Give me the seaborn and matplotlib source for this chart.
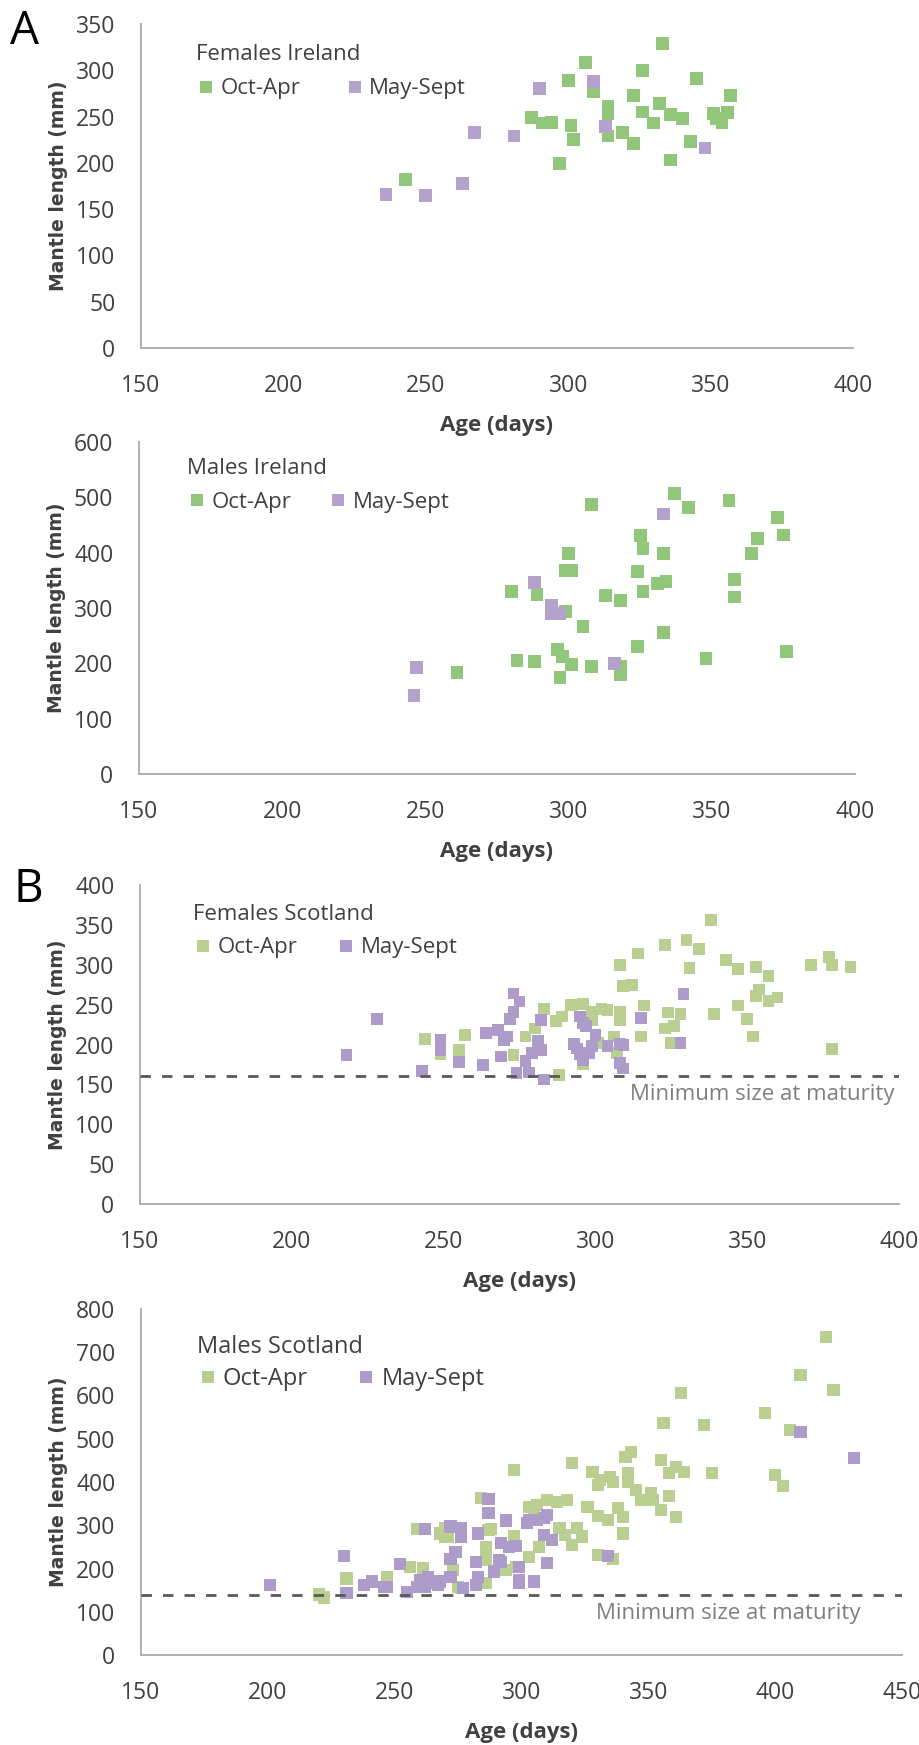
import matplotlib
matplotlib.use("Agg")
import matplotlib.pyplot as plt
import seaborn as sns
import pandas as pd
from matplotlib.lines import Line2D

SEASONS = ["Oct-Apr", "May-Sept"]

# ---------------- Females Ireland ----------------
fi_oct_age = [243, 287, 291, 294, 297, 300, 301, 302, 306, 309, 314, 314, 314, 319, 323, 323,
              326, 326, 330, 332, 333, 336, 336, 340, 343, 345, 351, 352, 354, 356, 357]
fi_oct_len = [182, 249, 243, 244, 199, 289, 240, 225, 308, 277, 261, 253, 229, 233, 273, 221,
              300, 255, 243, 264, 329, 203, 252, 248, 223, 291, 253, 248, 243, 254, 273]
fi_may_age = [236, 250, 263, 267, 281, 290, 309, 313, 348]
fi_may_len = [166, 165, 178, 233, 229, 280, 288, 239, 216]

# ---------------- Males Ireland ----------------
mi_oct_age = [261, 280, 282, 288, 289, 296, 297, 298, 299, 299, 301, 300, 301, 305, 308, 308,
              313, 318, 318, 318, 324, 324, 325, 326, 326, 331, 333, 333, 334, 337, 342, 348,
              356, 358, 358, 364, 366, 373, 375, 376]
mi_oct_len = [184, 330, 205, 203, 325, 225, 174, 213, 294, 368, 368, 398, 198, 266, 195, 487,
              322, 313, 195, 180, 231, 366, 431, 407, 330, 344, 398, 255, 348, 507, 481, 209,
              495, 352, 320, 399, 425, 463, 432, 222]
mi_may_age = [246, 247, 288, 294, 294, 295, 297, 316, 333]
mi_may_len = [142, 192, 346, 305, 290, 290, 290, 199, 470]

# ---------------- Females Scotland ----------------
fs_oct_age = [244, 249, 255, 257, 273, 277, 280, 283, 287, 289, 288, 292, 296, 296, 299, 299,
              301, 302, 304, 306, 307, 308, 308, 308, 309, 312, 314, 315, 316, 323, 323, 324,
              325, 326, 328, 330, 331, 334, 338, 339, 343, 347, 347, 350, 352, 353, 353, 354,
              357, 357, 360, 371, 377, 378, 378, 384]
fs_oct_len = [207, 188, 193, 212, 187, 210, 220, 245, 229, 235, 162, 250, 251, 176, 231, 241,
              202, 245, 243, 210, 189, 300, 241, 231, 273, 275, 314, 210, 249, 325, 220, 240,
              202, 223, 238, 331, 296, 320, 356, 238, 306, 295, 249, 232, 210, 297, 261, 269,
              286, 255, 259, 300, 310, 300, 194, 297]
fs_may_age = [218, 228, 243, 249, 249, 255, 263, 264, 268, 269, 270, 271, 272, 273, 273, 275,
              274, 278, 277, 279, 281, 282, 282, 283, 293, 294, 295, 296, 295, 296, 297, 298,
              299, 300, 304, 308, 308, 309, 309, 315, 328, 329]
fs_may_len = [187, 232, 167, 206, 193, 178, 174, 214, 218, 185, 206, 210, 232, 241, 264, 254,
              164, 165, 179, 189, 204, 193, 231, 156, 201, 195, 188, 180, 235, 227, 223, 189,
              198, 212, 198, 201, 177, 199, 170, 233, 202, 263]

# ---------------- Males Scotland ----------------
ms_oct_age = [220, 222, 231, 247, 256, 259, 261, 268, 270, 270, 271, 273, 275, 276, 284, 286,
              286, 286, 286, 287, 288, 292, 294, 297, 297, 297, 298, 303, 303, 305, 306, 307,
              310, 314, 315, 317, 318, 320, 320, 322, 324, 326, 328, 330, 330, 330, 331, 334,
              335, 336, 336, 338, 340, 340, 341, 342, 342, 343, 345, 347, 351, 352, 355, 355,
              358, 358, 361, 361, 364, 363, 356, 372, 375, 396, 400, 403, 406, 410, 420, 423]
ms_oct_len = [140, 133, 177, 181, 203, 291, 200, 281, 293, 274, 274, 197, 158, 154, 362, 243,
              220, 250, 166, 289, 291, 197, 197, 270, 274, 428, 204, 343, 227, 335, 347, 250,
              358, 354, 293, 277, 358, 254, 443, 293, 274, 343, 424, 393, 321, 231, 405, 312,
              412, 401, 221, 339, 320, 281, 458, 420, 401, 470, 381, 358, 374, 358, 451, 335,
              421, 368, 435, 320, 424, 605, 536, 532, 421, 560, 416, 391, 520, 647, 736, 613]
ms_may_age = [201, 230, 231, 238, 241, 246, 247, 252, 255, 259, 260, 262, 263, 262, 265, 267,
              268, 272, 272, 272, 274, 276, 276, 277, 282, 283, 283, 282, 287, 287, 289, 291,
              292, 292, 294, 295, 298, 299, 299, 299, 302, 303, 305, 306, 309, 309, 310, 310,
              312, 334, 410, 431]
ms_may_len = [162, 228, 144, 162, 170, 158, 157, 210, 146, 158, 173, 158, 181, 291, 166, 162,
              170, 181, 221, 297, 239, 293, 274, 154, 216, 281, 181, 162, 360, 328, 193, 220,
              216, 258, 311, 250, 252, 166, 204, 173, 305, 312, 170, 312, 316, 277, 324, 213,
              266, 229, 515, 455]

MATURITY_F = 160
MATURITY_M = 138

sns.set_theme(style="white")
plt.rcParams["font.family"] = ["Open Sans", "DejaVu Sans"]
plt.rcParams["lines.scale_dashes"] = False

TXT = "#404040"
W, H = 919, 1745
fig = plt.figure(figsize=(W / 100, H / 100), dpi=100)


def rect(l, r, t, b):
    return [l / W, 1 - b / H, (r - l) / W, (b - t) / H]


def make_df(a1, l1, a2, l2):
    return pd.DataFrame({
        "Age": list(a1) + list(a2),
        "Length": list(l1) + list(l2),
        "Season": [SEASONS[0]] * len(a1) + [SEASONS[1]] * len(a2),
    })


panels = [
    dict(rect=rect(141, 853, 24, 348), df=make_df(fi_oct_age, fi_oct_len, fi_may_age, fi_may_len),
         xlim=(150, 400), xticks=range(150, 401, 50), ylim=(0, 350), yticks=range(0, 351, 50),
         title="Females Ireland", colors=["#92c67b", "#b4a2cc"], s=85,
         leg=(0.077, 0.938), colsp=2.0, lfs=16, lsp=0.6, mat=None),
    dict(rect=rect(139, 855, 442, 774), df=make_df(mi_oct_age, mi_oct_len, mi_may_age, mi_may_len),
         xlim=(150, 400), xticks=range(150, 401, 50), ylim=(0, 600), yticks=range(0, 601, 100),
         title="Males Ireland", colors=["#92c67b", "#b4a2cc"], s=85,
         leg=(0.067, 0.952), colsp=1.67, lfs=16, lsp=0.6, mat=None),
    dict(rect=rect(140, 899, 885, 1204), df=make_df(fs_oct_age, fs_oct_len, fs_may_age, fs_may_len),
         xlim=(150, 400), xticks=range(150, 401, 50), ylim=(0, 400), yticks=range(0, 401, 50),
         title="Females Scotland", colors=["#bbcf92", "#ad9bca"], s=72,
         leg=(0.0698, 0.940), colsp=1.75, lfs=16, lsp=0.55, mat=MATURITY_F, mat_txt=(398.5, 137)),
    dict(rect=rect(141, 902, 1309, 1655), df=make_df(ms_oct_age, ms_oct_len, ms_may_age, ms_may_len),
         xlim=(150, 450), xticks=range(150, 451, 50), ylim=(0, 800), yticks=range(0, 801, 100),
         title="Males Scotland", colors=["#bbcf92", "#ad9bca"], s=76,
         leg=(0.0736, 0.925), colsp=2.0, lfs=17, lsp=0.35, mat=MATURITY_M, mat_txt=(433.5, 97)),
]

for p in panels:
    ax = fig.add_axes(p["rect"])
    pal = dict(zip(SEASONS, p["colors"]))
    sns.scatterplot(data=p["df"], x="Age", y="Length", hue="Season", hue_order=SEASONS,
                    palette=pal, marker="s", s=p["s"], linewidth=0, alpha=1.0,
                    legend=False, ax=ax, zorder=3)
    if p["mat"] is not None:
        ax.axhline(p["mat"], color="#595959", lw=2.0, dashes=(7.5, 8.0), zorder=4)
        ax.text(p["mat_txt"][0], p["mat_txt"][1], "Minimum size at maturity",
                ha="right", va="center", fontsize=16, color="#7f7f7f")
    ax.set_xlim(*p["xlim"])
    ax.set_ylim(*p["ylim"])
    ax.set_xticks(list(p["xticks"]))
    ax.set_yticks(list(p["yticks"]))
    for sp in ["top", "right"]:
        ax.spines[sp].set_visible(False)
    for sp in ["left", "bottom"]:
        ax.spines[sp].set_color("#b0b0b0")
        ax.spines[sp].set_linewidth(1.4)
    ax.tick_params(axis="both", length=0, labelsize=16.5, colors=TXT)
    ax.tick_params(axis="y", pad=18.5)
    ax.tick_params(axis="x", pad=19)
    ax.set_xlabel("Age (days)", fontsize=16, fontweight="bold", color=TXT, labelpad=12)
    ax.set_ylabel("Mantle length (mm)", fontsize=13.5, fontweight="bold", color=TXT,
                  labelpad=6, family=["DejaVu Sans"])
    ax.grid(False)
    handles = [Line2D([], [], marker="s", linestyle="", markersize=8.6,
                      markerfacecolor=pal[sn], markeredgewidth=0) for sn in SEASONS]
    leg = ax.legend(handles, SEASONS, title=p["title"], ncol=2, loc="upper left",
                    bbox_to_anchor=p["leg"], frameon=False, fontsize=p["lfs"],
                    title_fontsize=p["lfs"], alignment="left", borderpad=0,
                    borderaxespad=0, handlelength=0.9, handletextpad=0.2,
                    columnspacing=p["colsp"], labelspacing=p["lsp"])
    for t in leg.get_texts():
        t.set_color(TXT)
    leg.get_title().set_color(TXT)

fig.text(10 / W, 1 - 32 / H, "A", fontsize=33, color="black", ha="left", va="center")
fig.text(14 / W, 1 - 890 / H, "B", fontsize=33, color="black", ha="left", va="center")

fig.savefig("out.png", dpi=100)
